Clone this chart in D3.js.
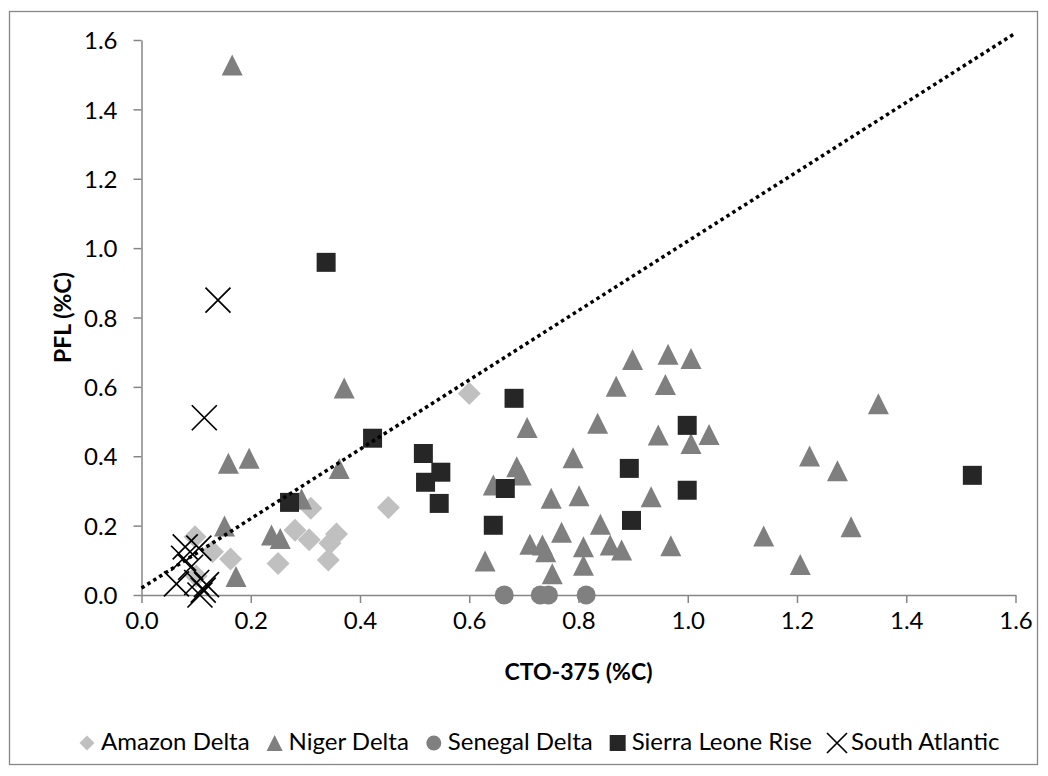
<!DOCTYPE html>
<html>
<head>
<meta charset="utf-8">
<script src="https://cdn.jsdelivr.net/npm/d3@7"></script>
<style>
  html, body { margin: 0; padding: 0; background: #fff; }
  svg { display: block; }
  text { font-family: Lato, "Open Sans", sans-serif; fill: #000; }
</style>
</head>
<body>
<svg id="chart" width="1048" height="776"></svg>
<script>
// ---- data: CTO-375 (x) vs PFL (y), both in %C ----
const seriesNames = ["Amazon Delta", "Niger Delta", "Senegal Delta", "Sierra Leone Rise", "South Atlantic"];

const amazonX = [0.098, 0.130, 0.163, 0.100, 0.250, 0.281, 0.307, 0.310, 0.342, 0.345, 0.357, 0.452, 0.600];
const amazonY = [0.168, 0.125, 0.104, 0.055, 0.091, 0.187, 0.159, 0.250, 0.101, 0.149, 0.176, 0.252, 0.581];

const nigerX = [0.166, 0.371, 0.159, 0.197, 0.152, 0.173, 0.238, 0.254, 0.293, 0.362,
                0.899, 0.964, 1.006, 0.869, 0.959, 0.706, 0.835, 0.946, 1.006, 1.039,
                0.790, 0.687, 0.695, 0.644, 0.750, 0.801, 0.933, 0.769, 0.840, 0.969,
                0.711, 0.734, 0.740, 0.809, 0.858, 0.879, 0.809, 0.752, 0.629,
                1.349, 1.223, 1.274, 1.299, 1.139, 1.206];
const nigerY = [1.528, 0.597, 0.380, 0.394, 0.199, 0.053, 0.173, 0.163, 0.277, 0.365,
                0.679, 0.694, 0.682, 0.602, 0.607, 0.483, 0.495, 0.461, 0.437, 0.463,
                0.396, 0.370, 0.346, 0.317, 0.279, 0.286, 0.283, 0.181, 0.204, 0.142,
                0.146, 0.144, 0.125, 0.139, 0.144, 0.130, 0.086, 0.061, 0.098,
                0.551, 0.401, 0.358, 0.197, 0.170, 0.088];

const senegalX = [0.664, 0.730, 0.745, 0.814];
const senegalY = [0.0, 0.0, 0.0, 0.0];

const sierraX = [0.338, 0.271, 0.423, 0.516, 0.548, 0.520, 0.545, 0.682, 0.666, 0.644, 0.893, 0.897, 0.999, 0.999, 1.521];
const sierraY = [0.959, 0.267, 0.452, 0.408, 0.354, 0.325, 0.264, 0.567, 0.307, 0.201, 0.365, 0.215, 0.489, 0.302, 0.345];

const southX = [0.140, 0.115, 0.080, 0.105, 0.077, 0.090, 0.064, 0.101, 0.113, 0.107, 0.119];
const southY = [0.850, 0.511, 0.139, 0.135, 0.106, 0.080, 0.032, 0.036, 0.014, 0.000, 0.030];

// 1:1 reference line
const refLineX = [0.0, 1.6];
const refLineY = [0.02, 1.62];

const xTicks = [0, 0.2, 0.4, 0.6, 0.8, 1.0, 1.2, 1.4, 1.6];
const yTicks = [0, 0.2, 0.4, 0.6, 0.8, 1.0, 1.2, 1.4, 1.6];

const xTitle = "CTO-375 (%C)";
const yTitle = "PFL (%C)";

// ---- layout ----
const svg = d3.select("#chart");
const W = 1048, H = 776;
const plot = { left: 141.5, right: 1015.5, top: 40, bottom: 595 };
const axisColor = "#868686";

svg.append("rect").attr("width", W).attr("height", H).attr("fill", "#fff");
svg.append("rect")
  .attr("x", 9.5).attr("y", 11.5).attr("width", 1028).attr("height", 753)
  .attr("fill", "none").attr("stroke", axisColor).attr("stroke-width", 1.3);

const x = d3.scaleLinear().domain([0, 1.6]).range([plot.left, plot.right]);
const y = d3.scaleLinear().domain([0, 1.6]).range([plot.bottom, plot.top]);

const fmt = d3.format(".1f");

// axes
const xAxis = svg.append("g")
  .attr("transform", `translate(0,${plot.bottom})`)
  .call(d3.axisBottom(x).tickValues(xTicks).tickFormat(fmt).tickSizeInner(8).tickSizeOuter(0).tickPadding(9));
const yAxis = svg.append("g")
  .attr("transform", `translate(${plot.left},0)`)
  .call(d3.axisLeft(y).tickValues(yTicks).tickFormat(fmt).tickSizeInner(8).tickSizeOuter(0).tickPadding(16));

[xAxis, yAxis].forEach(g => {
  g.select(".domain").attr("stroke", axisColor).attr("stroke-width", 1.5);
  g.selectAll(".tick line").attr("stroke", axisColor).attr("stroke-width", 1.5);
  g.selectAll(".tick text")
    .attr("font-family", "Lato, 'Open Sans', sans-serif")
    .attr("font-size", 24).attr("fill", "#000");
});
yAxis.selectAll(".tick text").attr("dy", "0.36em");

// axis titles
svg.append("text")
  .attr("x", (plot.left + plot.right) / 2).attr("y", 680)
  .attr("text-anchor", "middle").attr("font-weight", "bold").attr("font-size", 23)
  .text(xTitle);
svg.append("text")
  .attr("transform", `translate(71,${(plot.top + plot.bottom) / 2}) rotate(-90)`)
  .attr("text-anchor", "middle").attr("font-weight", "bold").attr("font-size", 23)
  .text(yTitle);

// ---- marker shapes ----
const shapes = {
  diamond: s => `M0,${-s}L${s},0L0,${s}L${-s},0Z`,
  triangle: s => `M0,${-s}L${s},${s}L${-s},${s}Z`,
  square: s => `M${-s},${-s}H${s}V${s}H${-s}Z`,
  cross: s => `M${-s},${-s}L${s},${s}M${s},${-s}L${-s},${s}`
};

const styles = [
  { shape: "diamond", size: 11.5, legendSize: 7.5, fill: "#c0c0c0" },
  { shape: "triangle", size: 10.5, legendSize: 8, fill: "#7f7f7f" },
  { shape: "circle", size: 9.5, legendSize: 7.5, fill: "#808080" },
  { shape: "square", size: 9.5, legendSize: 8, fill: "#262626" },
  { shape: "cross", size: 12.5, legendSize: 10, fill: "none", stroke: "#000" }
];

function drawMarker(g, st, size) {
  if (st.shape === "circle") {
    return g.append("circle").attr("r", size).attr("fill", st.fill);
  }
  const p = g.append("path").attr("d", shapes[st.shape](size));
  if (st.shape === "cross") {
    p.attr("fill", "none").attr("stroke", st.stroke).attr("stroke-width", 1.7);
  } else {
    p.attr("fill", st.fill);
  }
  return p;
}

const seriesData = [
  d3.zip(amazonX, amazonY),
  d3.zip(nigerX, nigerY),
  d3.zip(senegalX, senegalY),
  d3.zip(sierraX, sierraY),
  d3.zip(southX, southY)
];

const marks = svg.append("g");
seriesData.forEach((pts, i) => {
  const st = styles[i];
  const g = marks.append("g").attr("class", "series-" + i);
  pts.forEach(([vx, vy]) => {
    const m = g.append("g").attr("transform", `translate(${x(vx)},${y(vy)})`);
    drawMarker(m, st, st.size);
  });
});

// dotted 1:1 line
svg.append("path")
  .datum(d3.zip(refLineX, refLineY))
  .attr("d", d3.line().x(d => x(d[0])).y(d => y(d[1])))
  .attr("fill", "none").attr("stroke", "#000")
  .attr("stroke-width", 3.5).attr("stroke-dasharray", "3.5,3.5");

// ---- legend ----
const legend = svg.append("g");
let cursor = 0;
seriesNames.forEach((name, i) => {
  const item = legend.append("g");
  const mk = item.append("g").attr("transform", `translate(${cursor},-7)`);
  drawMarker(mk, styles[i], styles[i].legendSize);
  const t = item.append("text").attr("x", cursor + 14).attr("y", 0)
    .attr("font-size", 24).text(name);
  const w = t.node().getComputedTextLength();
  cursor += 14 + w + 25;
});
const legendLeft = -styles[0].legendSize;
const legendRight = cursor - 25;
const legendCenter = 539.5;
legend.attr("transform", `translate(${legendCenter - (legendLeft + legendRight) / 2},750)`);
</script>
</body>
</html>
